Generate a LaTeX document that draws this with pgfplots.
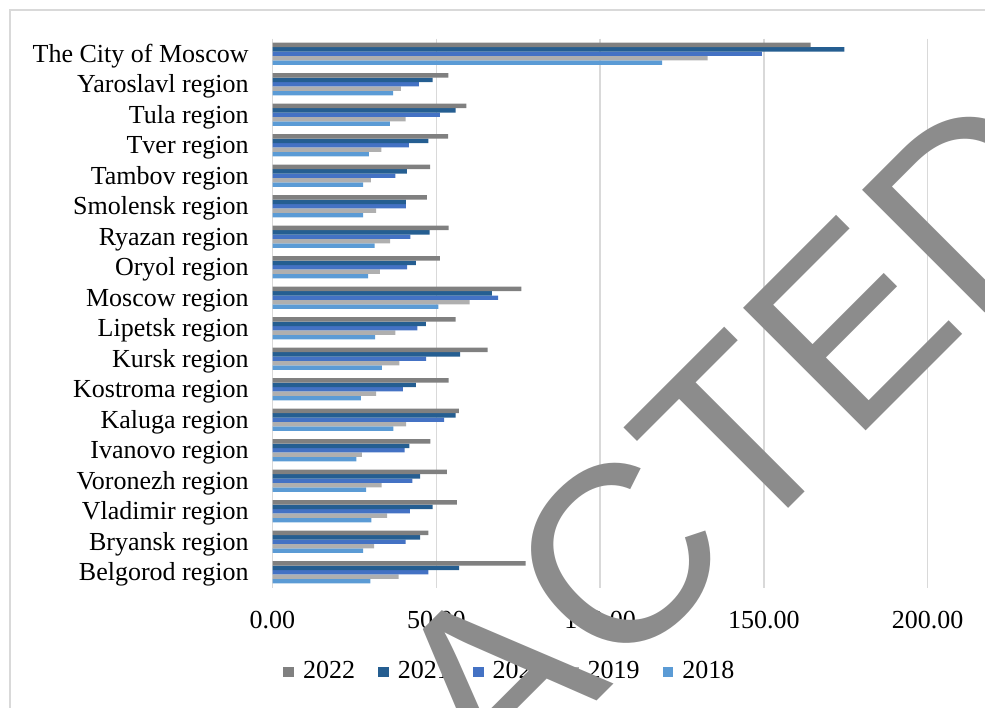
\documentclass[border=0pt]{standalone}
\usepackage{pgfplots}
\usepackage{pgfplotstable}
\pgfplotsset{compat=1.18}
\usepackage{fontspec}
\setmainfont{Liberation Serif}
\newfontfamily\markfont{Liberation Sans}

\definecolor{c2022}{RGB}{128 128 128}
\definecolor{c2021}{RGB}{37 94 145}
\definecolor{c2020}{RGB}{68 114 196}
\definecolor{c2019}{RGB}{175 175 175}
\definecolor{c2018}{RGB}{91 155 213}
\definecolor{gridgray}{RGB}{217 217 217}
\definecolor{markgray}{RGB}{140 140 140}

% idx 0 = top row (The City of Moscow)
\pgfplotstableread{
idx y2022 y2021 y2020 y2019 y2018
0  164.3 174.6 149.4 132.8 118.9
1  53.7  48.9  44.7  39.2  36.8
2  59.2  55.9  51.1  40.6  35.8
3  53.6  47.6  41.6  33.2  29.4
4  48.1  41.0  37.5  30.0  27.7
5  47.1  40.7  40.7  31.6  27.7
6  53.8  48.0  42.1  35.9  31.2
7  51.1  43.8  41.1  32.8  29.2
8  76.0  67.0  68.9  60.2  50.6
9  55.9  46.8  44.2  37.5  31.3
10 65.7  57.3  46.9  38.7  33.4
11 53.8  43.8  39.8  31.6  27.0
12 56.9  55.9  52.4  40.8  36.9
13 48.2  41.8  40.3  27.3  25.6
14 53.2  45.1  42.7  33.3  28.6
15 56.3  48.9  41.9  35.0  30.2
16 47.6  45.1  40.6  31.0  27.7
17 77.3  57.0  47.6  38.5  29.9
}\regions

\begin{document}
\fontsize{13}{15.6}\selectfont
\begin{tikzpicture}
\useasboundingbox (0,0) rectangle (492.5pt,353.5pt);
% chart frame
\draw[gridgray, line width=0.75pt] (5pt,-5pt) -- (5pt,348.5pt) -- (500pt,348.5pt);
\begin{axis}[
    at={(136.25pt,59.75pt)}, anchor=south west,
    scale only axis,
    width=356.25pt, height=274.5pt,
    xbar=0pt, bar width=2.23pt,
    xmin=0, xmax=217.5,
    ymin=-0.5, ymax=17.5,
    y dir=reverse,
    ytick={0,...,17},
    yticklabels={The City of Moscow, Yaroslavl region, Tula region, Tver region,
      Tambov region, Smolensk region, Ryazan region, Oryol region, Moscow region,
      Lipetsk region, Kursk region, Kostroma region, Kaluga region, Ivanovo region,
      Voronezh region, Vladimir region, Bryansk region, Belgorod region},
    xtick={0,50,100,150,200},
    xticklabel={\pgfmathprintnumber[fixed,fixed zerofill,precision=2]{\tick}},
    /pgf/number format/assume math mode=true,
    xmajorgrids, major grid style={gridgray, line width=0.75pt},
    axis line style={draw=none},
    major tick length=0pt,
    tick label style={font=\fontsize{13}{15.6}\selectfont},
    yticklabel style={anchor=base east, inner sep=0pt, xshift=-11.75pt, yshift=-4.2pt},
    xticklabel style={anchor=north, inner sep=0pt, yshift=-11.5pt},
    legend columns=-1,
    reverse legend,
    legend style={at={(0.3345,-0.154)}, anchor=center, draw=none, fill=none,
      font=\fontsize{13}{15.6}\selectfont,
      /tikz/every odd column/.append style={column sep=2.5pt},
      /tikz/every even column/.append style={column sep=9.5pt}},
    legend image code/.code={\fill[#1] (0pt,-2.7pt) rectangle (5.4pt,2.7pt);},
  ]
  % added bottom-up so that 2022 sits on top of each group
  \addplot[fill=c2018, draw=none] table[x=y2018, y=idx] {\regions};
  \addplot[fill=c2019, draw=none] table[x=y2019, y=idx] {\regions};
  \addplot[fill=c2020, draw=none] table[x=y2020, y=idx] {\regions};
  \addplot[fill=c2021, draw=none] table[x=y2021, y=idx] {\regions};
  \addplot[fill=c2022, draw=none] table[x=y2022, y=idx] {\regions};
  \legend{2018,2019,2020,2021,2022}
\end{axis}
% watermark laid over the chart
\node[rotate=45, text=markgray, inner sep=0pt, font=\fontsize{126}{126}\markfont]
  at (274pt,40pt) {REDACTED};
\end{tikzpicture}
\end{document}
